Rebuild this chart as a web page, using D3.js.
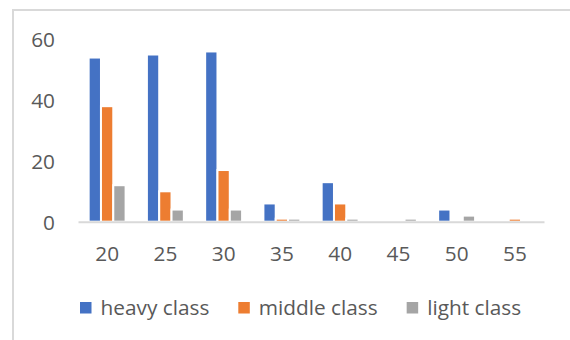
<!DOCTYPE html>
<html>
<head>
<meta charset="utf-8">
<script src="https://cdn.jsdelivr.net/npm/d3@7/dist/d3.min.js"></script>
<style>
  html, body { margin: 0; padding: 0; background: #fff; }
  svg { display: block; }
  text { font-family: "Open Sans", "Noto Sans", sans-serif; fill: #595959; }
</style>
</head>
<body>
<svg id="chart" width="570" height="340"></svg>
<script>
// Category labels (x axis) and the three series
const categories = ["20", "25", "30", "35", "40", "45", "50", "55"];
const heavyClass  = [54, 55, 56, 6, 13, 0, 4, 0];
const middleClass = [38, 10, 17, 1, 6, 0, 0, 1];
const lightClass  = [12, 4, 4, 1, 1, 1, 2, 0];
const seriesNames = ["heavy class", "middle class", "light class"];
const seriesColors = ["#4472c4", "#ed7d31", "#a5a5a5"];
const yTicks = [0, 20, 40, 60];

const seriesValues = [heavyClass, middleClass, lightClass];
const rows = categories.map((c, i) => ({
  cat: c,
  values: seriesNames.map((s, k) => ({ key: s, value: seriesValues[k][i] }))
}));

const fontSize = "20.8px";
const svg = d3.select("#chart");

// Outer chart frame (top and left edges visible)
svg.append("path")
  .attr("d", "M13,340 L13,10 L570,10")
  .attr("fill", "none")
  .attr("stroke", "#d9d9d9")
  .attr("stroke-width", 2);

const plot = { left: 78, right: 544, top: 39.3, bottom: 221.7 };

const x0 = d3.scaleBand()
  .domain(categories)
  .range([plot.left, plot.right])
  .paddingInner(0.366)
  .paddingOuter(0.183);

const x1 = d3.scaleBand()
  .domain(seriesNames)
  .range([0, x0.bandwidth()]);

const y = d3.scaleLinear()
  .domain([0, 60])
  .range([plot.bottom, plot.top]);

const color = d3.scaleOrdinal().domain(seriesNames).range(seriesColors);

// Bars
const groups = svg.append("g").selectAll("g")
  .data(rows)
  .join("g")
  .attr("transform", d => `translate(${x0(d.cat)},0)`);

groups.selectAll("rect")
  .data(d => d.values.filter(v => v.value > 0))
  .join("rect")
  .attr("x", d => x1(d.key))
  .attr("y", d => y(d.value))
  .attr("width", x1.bandwidth())
  .attr("height", d => y(0) - y(d.value))
  .attr("fill", d => color(d.key))
  .attr("stroke", "#fff")
  .attr("stroke-width", 2);

// Category axis line and labels
const xAxis = svg.append("g")
  .attr("transform", `translate(0,${plot.bottom})`)
  .call(d3.axisBottom(x0).tickSize(0).tickPadding(0));
xAxis.select(".domain")
  .attr("stroke", "#d9d9d9")
  .attr("stroke-width", 2);
xAxis.selectAll("text")
  .attr("y", 39)
  .attr("dy", null)
  .style("font-size", fontSize)
  .style("font-family", "'Open Sans', 'Noto Sans', sans-serif")
  .attr("fill", "#595959");

// Value axis labels (no line, no gridlines)
const yAxis = svg.append("g")
  .attr("transform", "translate(55,0)")
  .call(d3.axisLeft(y).tickValues(yTicks).tickSize(0).tickPadding(0));
yAxis.select(".domain").remove();
yAxis.selectAll("text")
  .attr("dy", "0.36em")
  .style("font-size", fontSize)
  .style("font-family", "'Open Sans', 'Noto Sans', sans-serif")
  .attr("fill", "#595959");

// Legend
const legend = svg.append("g");
let lx = 80;
seriesNames.forEach((name, i) => {
  const item = legend.append("g").attr("transform", `translate(${lx},0)`);
  item.append("rect")
    .attr("x", 0).attr("y", 302)
    .attr("width", 11.5).attr("height", 11.5)
    .attr("fill", seriesColors[i]);
  const t = item.append("text")
    .attr("x", 20.5).attr("y", 315)
    .style("font-size", fontSize)
    .text(name);
  lx += 20.5 + t.node().getComputedTextLength() + 29;
});
</script>
</body>
</html>
